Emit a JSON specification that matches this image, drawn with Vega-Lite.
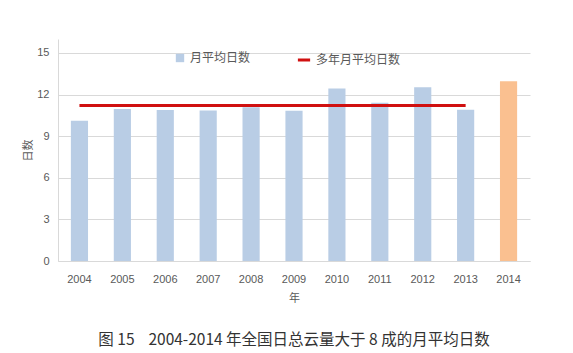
{
  "$schema": "https://vega.github.io/schema/vega-lite/v6.json",
  "width": 472,
  "height": 222,
  "autosize": {"type": "none"},
  "padding": {"left": 58, "top": 39, "right": 43, "bottom": 92},
  "background": "white",
  "title": {
    "text": "图 15\u00a0\u00a0\u00a0 2004-2014 年全国日总云量大于 8 成的月平均日数",
    "orient": "bottom",
    "anchor": "middle",
    "offset": 30,
    "font": "Noto Sans CJK SC",
    "fontSize": 15.5,
    "fontWeight": "normal",
    "color": "#333333"
  },
  "data": {
    "values": [
      {"year": "2004", "value": 10.1, "avg": 11.2, "type": "月平均日数", "series": "多年月平均日数"},
      {"year": "2005", "value": 10.95, "avg": 11.2, "type": "月平均日数", "series": "多年月平均日数"},
      {"year": "2006", "value": 10.88, "avg": 11.2, "type": "月平均日数", "series": "多年月平均日数"},
      {"year": "2007", "value": 10.85, "avg": 11.2, "type": "月平均日数", "series": "多年月平均日数"},
      {"year": "2008", "value": 11.08, "avg": 11.2, "type": "月平均日数", "series": "多年月平均日数"},
      {"year": "2009", "value": 10.82, "avg": 11.2, "type": "月平均日数", "series": "多年月平均日数"},
      {"year": "2010", "value": 12.43, "avg": 11.2, "type": "月平均日数", "series": "多年月平均日数"},
      {"year": "2011", "value": 11.4, "avg": 11.2, "type": "月平均日数", "series": "多年月平均日数"},
      {"year": "2012", "value": 12.52, "avg": 11.2, "type": "月平均日数", "series": "多年月平均日数"},
      {"year": "2013", "value": 10.9, "avg": 11.2, "type": "月平均日数", "series": "多年月平均日数"},
      {"year": "2014", "value": 12.95, "avg": null, "type": "2014", "series": "多年月平均日数"}
    ]
  },
  "encoding": {
    "x": {
      "field": "year",
      "type": "ordinal",
      "scale": {"paddingInner": 0.6, "paddingOuter": 0.3},
      "axis": {
        "title": "年",
        "labelAngle": 0,
        "labelFont": "Liberation Sans",
        "labelFontSize": 11,
        "labelColor": "#595959",
        "labelPadding": 12,
        "ticks": false,
        "domainColor": "#D9D9D9",
        "titleFont": "Noto Sans CJK SC",
        "titleFontSize": 11,
        "titleFontWeight": "normal",
        "titleColor": "#595959",
        "titlePadding": 8
      }
    }
  },
  "layer": [
    {
      "mark": {"type": "bar"},
      "encoding": {
        "y": {
          "field": "value",
          "type": "quantitative",
          "scale": {"domain": [0, 15]},
          "axis": {
            "title": "日数",
            "values": [0, 3, 6, 9, 12, 15],
            "labelFont": "Liberation Sans",
            "labelFontSize": 11,
            "labelColor": "#595959",
            "labelPadding": 9,
            "ticks": false,
            "domain": true,
            "domainColor": "#D9D9D9",
            "gridColor": "#D9D9D9",
            "titleFont": "Noto Sans CJK SC",
            "titleFontSize": 11,
            "titleFontWeight": "normal",
            "titleColor": "#595959",
            "titlePadding": 3
          }
        },
        "color": {
          "field": "type",
          "type": "nominal",
          "scale": {"domain": ["月平均日数", "2014"], "range": ["#B9CDE5", "#FAC090"]},
          "legend": {
            "title": null,
            "values": ["月平均日数"],
            "orient": "none",
            "legendX": 116,
            "legendY": 13,
            "symbolType": "square",
            "symbolSize": 70,
            "labelFont": "Noto Sans CJK SC",
            "labelFontSize": 12,
            "labelColor": "#595959"
          }
        }
      }
    },
    {
      "transform": [{"filter": "datum.avg != null"}],
      "mark": {"type": "line", "strokeWidth": 3},
      "encoding": {
        "y": {"field": "avg", "type": "quantitative"},
        "stroke": {
          "field": "series",
          "type": "nominal",
          "scale": {"range": ["#D01010"]},
          "legend": {
            "title": null,
            "orient": "none",
            "legendX": 238,
            "legendY": 13,
            "symbolType": "stroke",
            "symbolStrokeWidth": 3,
            "symbolSize": 150,
            "labelFont": "Noto Sans CJK SC",
            "labelFontSize": 12,
            "labelColor": "#595959"
          }
        }
      }
    }
  ],
  "config": {
    "view": {"stroke": null}
  }
}
